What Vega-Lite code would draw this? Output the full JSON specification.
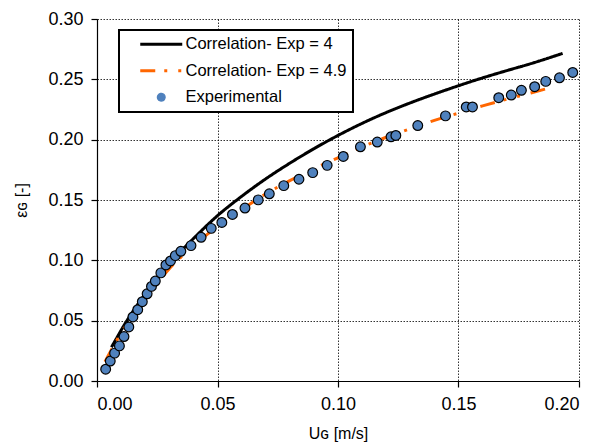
{
  "$schema": "https://vega.github.io/schema/vega-lite/v6.json",
  "width": 482,
  "height": 362,
  "autosize": "none",
  "padding": {"left": 97, "top": 19, "right": 34, "bottom": 63},
  "background": "white",
  "config": {
    "font": "Liberation Sans",
    "view": {"stroke": null},
    "axis": {
      "labelFont": "Liberation Sans",
      "titleFont": "Liberation Sans",
      "labelFontSize": 18,
      "titleFontSize": 16,
      "titleFontWeight": "normal",
      "labelColor": "black",
      "titleColor": "black",
      "domainColor": "black",
      "domainWidth": 1.2,
      "tickColor": "black",
      "tickSize": 6,
      "tickWidth": 1.2,
      "labelPadding": 8,
      "gridColor": "#000",
      "gridDash": [1.5, 1.5],
      "gridWidth": 1,
      "gridOpacity": 0.8
    },
    "legend": {
      "labelFont": "Liberation Sans",
      "labelFontSize": 16.5,
      "labelColor": "black",
      "labelLimit": 0
    }
  },
  "datasets": {
    "lines": [
      {"series": "Correlation- Exp = 4", "U": 0.006, "eps": 0.028},
      {"series": "Correlation- Exp = 4", "U": 0.008, "eps": 0.035},
      {"series": "Correlation- Exp = 4", "U": 0.01, "eps": 0.042},
      {"series": "Correlation- Exp = 4", "U": 0.015, "eps": 0.058},
      {"series": "Correlation- Exp = 4", "U": 0.02, "eps": 0.072},
      {"series": "Correlation- Exp = 4", "U": 0.025, "eps": 0.085},
      {"series": "Correlation- Exp = 4", "U": 0.03, "eps": 0.097},
      {"series": "Correlation- Exp = 4", "U": 0.035, "eps": 0.108},
      {"series": "Correlation- Exp = 4", "U": 0.04, "eps": 0.118},
      {"series": "Correlation- Exp = 4", "U": 0.05, "eps": 0.137},
      {"series": "Correlation- Exp = 4", "U": 0.06, "eps": 0.153},
      {"series": "Correlation- Exp = 4", "U": 0.07, "eps": 0.1675},
      {"series": "Correlation- Exp = 4", "U": 0.08, "eps": 0.1805},
      {"series": "Correlation- Exp = 4", "U": 0.09, "eps": 0.1925},
      {"series": "Correlation- Exp = 4", "U": 0.1, "eps": 0.2035},
      {"series": "Correlation- Exp = 4", "U": 0.11, "eps": 0.2135},
      {"series": "Correlation- Exp = 4", "U": 0.12, "eps": 0.2225},
      {"series": "Correlation- Exp = 4", "U": 0.13, "eps": 0.2305},
      {"series": "Correlation- Exp = 4", "U": 0.14, "eps": 0.2378},
      {"series": "Correlation- Exp = 4", "U": 0.15, "eps": 0.2447},
      {"series": "Correlation- Exp = 4", "U": 0.16, "eps": 0.2512},
      {"series": "Correlation- Exp = 4", "U": 0.17, "eps": 0.2572},
      {"series": "Correlation- Exp = 4", "U": 0.18, "eps": 0.263},
      {"series": "Correlation- Exp = 4", "U": 0.1932, "eps": 0.2715},
      {"series": "Correlation- Exp = 4.9", "U": 0.0033, "eps": 0.016},
      {"series": "Correlation- Exp = 4.9", "U": 0.006, "eps": 0.026},
      {"series": "Correlation- Exp = 4.9", "U": 0.008, "eps": 0.033},
      {"series": "Correlation- Exp = 4.9", "U": 0.01, "eps": 0.040},
      {"series": "Correlation- Exp = 4.9", "U": 0.015, "eps": 0.055},
      {"series": "Correlation- Exp = 4.9", "U": 0.02, "eps": 0.068},
      {"series": "Correlation- Exp = 4.9", "U": 0.025, "eps": 0.081},
      {"series": "Correlation- Exp = 4.9", "U": 0.03, "eps": 0.093},
      {"series": "Correlation- Exp = 4.9", "U": 0.035, "eps": 0.103},
      {"series": "Correlation- Exp = 4.9", "U": 0.04, "eps": 0.112},
      {"series": "Correlation- Exp = 4.9", "U": 0.05, "eps": 0.128},
      {"series": "Correlation- Exp = 4.9", "U": 0.06, "eps": 0.142},
      {"series": "Correlation- Exp = 4.9", "U": 0.07, "eps": 0.155},
      {"series": "Correlation- Exp = 4.9", "U": 0.08, "eps": 0.166},
      {"series": "Correlation- Exp = 4.9", "U": 0.09, "eps": 0.176},
      {"series": "Correlation- Exp = 4.9", "U": 0.1, "eps": 0.185},
      {"series": "Correlation- Exp = 4.9", "U": 0.11, "eps": 0.194},
      {"series": "Correlation- Exp = 4.9", "U": 0.12, "eps": 0.202},
      {"series": "Correlation- Exp = 4.9", "U": 0.13, "eps": 0.209},
      {"series": "Correlation- Exp = 4.9", "U": 0.14, "eps": 0.216},
      {"series": "Correlation- Exp = 4.9", "U": 0.15, "eps": 0.222},
      {"series": "Correlation- Exp = 4.9", "U": 0.16, "eps": 0.228},
      {"series": "Correlation- Exp = 4.9", "U": 0.17, "eps": 0.2335},
      {"series": "Correlation- Exp = 4.9", "U": 0.18, "eps": 0.2387},
      {"series": "Correlation- Exp = 4.9", "U": 0.1887, "eps": 0.2434}
    ],
    "points": [
      {"series": "Experimental", "U": 0.0036, "eps": 0.0098},
      {"series": "Experimental", "U": 0.0055, "eps": 0.0165},
      {"series": "Experimental", "U": 0.0073, "eps": 0.0231},
      {"series": "Experimental", "U": 0.0093, "eps": 0.0291},
      {"series": "Experimental", "U": 0.0112, "eps": 0.0368},
      {"series": "Experimental", "U": 0.0132, "eps": 0.0448},
      {"series": "Experimental", "U": 0.0149, "eps": 0.0531},
      {"series": "Experimental", "U": 0.0169, "eps": 0.0591},
      {"series": "Experimental", "U": 0.0188, "eps": 0.0657},
      {"series": "Experimental", "U": 0.0208, "eps": 0.0723},
      {"series": "Experimental", "U": 0.0226, "eps": 0.0784},
      {"series": "Experimental", "U": 0.0242, "eps": 0.0828},
      {"series": "Experimental", "U": 0.0265, "eps": 0.0896},
      {"series": "Experimental", "U": 0.0286, "eps": 0.0962},
      {"series": "Experimental", "U": 0.0305, "eps": 0.0995},
      {"series": "Experimental", "U": 0.0325, "eps": 0.1039},
      {"series": "Experimental", "U": 0.0348, "eps": 0.1075},
      {"series": "Experimental", "U": 0.039, "eps": 0.1122},
      {"series": "Experimental", "U": 0.0432, "eps": 0.1191},
      {"series": "Experimental", "U": 0.0474, "eps": 0.1265},
      {"series": "Experimental", "U": 0.0518, "eps": 0.1314},
      {"series": "Experimental", "U": 0.0562, "eps": 0.138},
      {"series": "Experimental", "U": 0.0614, "eps": 0.1433},
      {"series": "Experimental", "U": 0.0669, "eps": 0.1501},
      {"series": "Experimental", "U": 0.0715, "eps": 0.1551},
      {"series": "Experimental", "U": 0.0775, "eps": 0.1619},
      {"series": "Experimental", "U": 0.0838, "eps": 0.1672},
      {"series": "Experimental", "U": 0.0895, "eps": 0.1727},
      {"series": "Experimental", "U": 0.0955, "eps": 0.1787},
      {"series": "Experimental", "U": 0.1022, "eps": 0.1861},
      {"series": "Experimental", "U": 0.1093, "eps": 0.1941},
      {"series": "Experimental", "U": 0.1163, "eps": 0.198},
      {"series": "Experimental", "U": 0.122, "eps": 0.2024},
      {"series": "Experimental", "U": 0.124, "eps": 0.2035},
      {"series": "Experimental", "U": 0.1331, "eps": 0.2117},
      {"series": "Experimental", "U": 0.1446, "eps": 0.2197},
      {"series": "Experimental", "U": 0.1532, "eps": 0.2271},
      {"series": "Experimental", "U": 0.1558, "eps": 0.2271},
      {"series": "Experimental", "U": 0.1667, "eps": 0.2348},
      {"series": "Experimental", "U": 0.1719, "eps": 0.237},
      {"series": "Experimental", "U": 0.1761, "eps": 0.2409},
      {"series": "Experimental", "U": 0.1816, "eps": 0.2439},
      {"series": "Experimental", "U": 0.1862, "eps": 0.2483},
      {"series": "Experimental", "U": 0.1919, "eps": 0.2513},
      {"series": "Experimental", "U": 0.1974, "eps": 0.2557}
    ]
  },
  "encoding": {
    "x": {
      "field": "U", "type": "quantitative",
      "scale": {"domain": [0, 0.2], "nice": false, "zero": false},
      "axis": {"values": [0, 0.05, 0.1, 0.15, 0.2], "format": ".2f", "title": "Uɢ [m/s]", "titlePadding": 12}
    },
    "y": {
      "field": "eps", "type": "quantitative",
      "scale": {"domain": [0, 0.3], "nice": false, "zero": false},
      "axis": {"values": [0, 0.05, 0.1, 0.15, 0.2, 0.25, 0.3], "format": ".2f", "title": "εɢ [-]", "titlePadding": 18}
    }
  },
  "layer": [
    {
      "data": {"name": "lines"},
      "mark": {"type": "line", "strokeWidth": 3, "interpolate": "monotone", "clip": true},
      "encoding": {
        "color": {
          "field": "series", "type": "nominal",
          "scale": {
            "domain": ["Correlation- Exp = 4", "Correlation- Exp = 4.9", "Experimental"],
            "range": ["#000000", "#FF6600", "#4F81BD"]
          },
          "legend": {
            "title": null,
            "orient": "none",
            "legendX": 22,
            "legendY": 11,
            "padding": 6,
            "fillColor": "white",
            "strokeColor": "black",
            "symbolSize": 1764,
            "symbolOffset": 28,
            "labelOffset": 16,
            "rowPadding": 9.5,
            "encode": {
              "legend": {"update": {"strokeWidth": {"value": 2}}},
              "symbols": {
                "update": {
                  "shape": {"signal": "datum.value === 'Experimental' ? 'circle' : 'stroke'"},
                  "size": {"signal": "datum.value === 'Experimental' ? 60 : 1764"},
                  "stroke": {"signal": "datum.value === 'Correlation- Exp = 4.9' ? '#FF6600' : 'black'"},
                  "fill": {"signal": "datum.value === 'Experimental' ? '#4F81BD' : 'transparent'"},
                  "strokeWidth": {"signal": "datum.value === 'Experimental' ? 1.2 : 3"},
                  "strokeDash": {"signal": "datum.value === 'Correlation- Exp = 4.9' ? [15, 9, 3, 11, 3, 11] : [1, 0]"},
                  "opacity": {"value": 1}
                }
              }
            }
          }
        },
        "strokeDash": {
          "field": "series", "type": "nominal",
          "scale": {
            "domain": ["Correlation- Exp = 4", "Correlation- Exp = 4.9"],
            "range": [[1, 0], [15, 9, 3, 11, 3, 11]]
          },
          "legend": null
        }
      }
    },
    {
      "data": {"name": "points"},
      "mark": {"type": "point", "filled": true, "size": 95, "stroke": "black", "strokeWidth": 1.2, "opacity": 1},
      "encoding": {
        "color": {"field": "series", "type": "nominal"}
      }
    }
  ]
}
